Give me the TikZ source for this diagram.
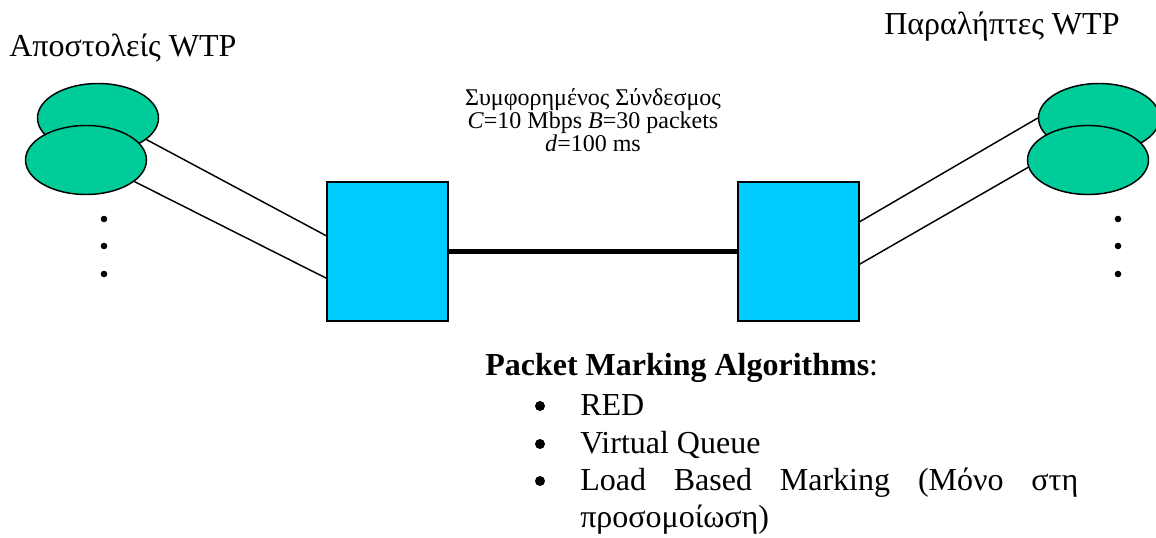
\documentclass[tikz,border=0pt]{standalone}
\usepackage{fontspec}
\setmainfont{Liberation Serif}
\usetikzlibrary{shapes.geometric,calc}
\definecolor{hostgreen}{HTML}{00CC99}
\definecolor{routercyan}{HTML}{00CCFF}
\begin{document}
\begin{tikzpicture}[x=0.75pt,y=-0.75pt,
  host/.style={ellipse,draw=black,fill=hostgreen,line width=1.1pt,
    minimum width=90.75pt,minimum height=51.75pt,inner sep=0pt},
  router/.style={rectangle,draw=black,fill=routercyan,line width=1.1pt,
    minimum width=90.75pt,minimum height=104.25pt,inner sep=0pt},
  access/.style={line width=1.1pt},
  bottleneck/.style={line width=3.8pt},
  bigtext/.style={font=\fontsize{24}{28}\selectfont,inner sep=0pt},
  midtext/.style={font=\fontsize{18}{17.5}\selectfont,inner sep=0pt,align=center},
  dotmark/.style={fill=black},
]
% canvas
\fill[white] (0,0) rectangle (1156,538);
\useasboundingbox (0,0) rectangle (1156,538);

% titles
\node[bigtext,anchor=base west] (tsend) at (9,57) {Αποστολείς WTP};
\node[bigtext,anchor=base west] (trecv) at (884,35) {Παραλήπτες WTP};

% senders
\node[host] (s1) at (98,118) {};
\node[host] (s2) at (86,160) {};
% receivers
\node[host] (r1) at (1099,118) {};
\node[host] (r2) at (1088,160) {};

% routers
\node[router] (rl) at (387.5,251.5) {};
\node[router] (rr) at (798.5,251.5) {};

% access links
\draw[access] (s1.-24) -- ($(rl.north west)!0.388!(rl.south west)$);
\draw[access] (s2.-24) -- ($(rl.north west)!0.69!(rl.south west)$);
\draw[access] ($(rr.north east)!0.288!(rr.south east)$) -- (r1.west);
\draw[access] ($(rr.north east)!0.59!(rr.south east)$) -- (r2.187);

% bottleneck link
\draw[bottleneck] (rl.east) -- (rr.west);

% continuation dots
\foreach \yy in {219,246,274} {
  \fill[dotmark] (104,\yy) circle (3.3);
  \fill[dotmark] (1118,\yy) circle (3.3);
}

% link parameters
\node[midtext] (lparam) at (593,120)
  {Συμφορημένος Σύνδεσμος\\ \textit{C}=10 Mbps \textit{B}=30 packets\\ \textit{d}=100 ms};

% marking algorithms
\node[bigtext,anchor=base west] (alghead) at (485,375) {\textbf{Packet Marking Algorithms}:};
\node[bigtext,anchor=base west] (alg1) at (580,415) {RED};
\node[bigtext,anchor=base west] (alg2) at (580,453) {Virtual Queue};
\node[bigtext,anchor=base west] (alg3) at (580,490)
  {\makebox[373.5pt][s]{Load Based Marking (Μόνο στη}};
\node[bigtext,anchor=base west] (alg3b) at (580,527) {προσομοίωση)};
\foreach \yy in {415,453,490} {
  \fill[dotmark] (540,\yy-9) circle (5);
}
\end{tikzpicture}
\end{document}
